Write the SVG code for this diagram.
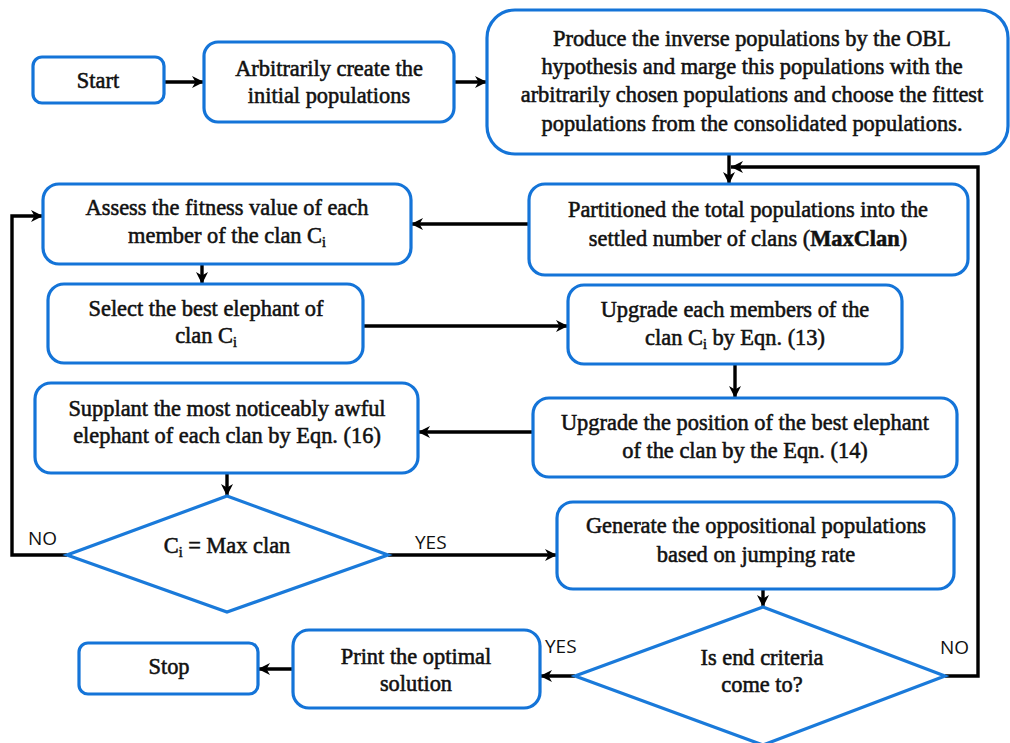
<svg xmlns="http://www.w3.org/2000/svg" width="1010" height="743" viewBox="0 0 1010 743">
  <style>
    .box { fill: #ffffff; stroke: #1474d8; stroke-width: 3.2; }
    .dia { fill: #ffffff; stroke: #1a7ada; stroke-width: 3.2; stroke-linejoin: miter; }
    .t { font-family: "Liberation Serif", "Times New Roman", serif; font-size: 22.4px; fill: #111; stroke: #111; stroke-width: 0.55; text-anchor: middle; }
    .sub { font-size: 14px; }
    .lbl { font-family: "Open Sans", "Liberation Sans", sans-serif; font-size: 19px; fill: #111; }
    .c { fill: none; stroke: #000; stroke-width: 3.4; }
    .a { marker-end: url(#ah); }
  </style>
  <defs>
    <marker id="ah" viewBox="0 0 14 14" refX="13" refY="7" markerWidth="14" markerHeight="14" orient="auto" markerUnits="userSpaceOnUse">
      <path d="M1,1 L13,7 L1,13 L4.5,7 Z" fill="#000"/>
    </marker>
  </defs>
  <rect width="1010" height="743" fill="#ffffff"/>

  <g id="connectors">
    <line class="c a" x1="164" y1="82" x2="204" y2="82"/>
    <line class="c a" x1="454" y1="82" x2="487" y2="82"/>
    <line class="c a" x1="729" y1="154" x2="729" y2="184"/>
    <polyline class="c a" points="945,676 978,676 978,167 731,167"/>
    <line class="c a" x1="529" y1="224" x2="411" y2="224"/>
    <polyline class="c a" points="67,555 12,555 12,216 43,216"/>
    <line class="c a" x1="202" y1="264" x2="202" y2="284"/>
    <line class="c a" x1="363" y1="326" x2="568" y2="326"/>
    <line class="c a" x1="735" y1="364" x2="735" y2="398"/>
    <line class="c a" x1="533" y1="432" x2="418" y2="432"/>
    <line class="c a" x1="227" y1="473" x2="227" y2="496"/>
    <line class="c a" x1="388" y1="555" x2="557" y2="555"/>
    <line class="c a" x1="763" y1="589" x2="763" y2="607"/>
    <line class="c a" x1="575" y1="676" x2="540" y2="676"/>
    <line class="c a" x1="293" y1="669" x2="258" y2="669"/>
    <text class="lbl" x="28" y="545">NO</text>
    <text class="lbl" x="415" y="549">YES</text>
    <text class="lbl" x="545" y="653">YES</text>
    <text class="lbl" x="940" y="654">NO</text>
  </g>

  <g id="start">
    <rect class="box" x="33" y="57" width="131" height="46" rx="9"/>
    <text class="t" x="98" y="88">Start</text>
  </g>

  <g id="init">
    <rect class="box" x="204" y="42" width="250" height="80" rx="14"/>
    <text class="t" x="329" y="76">Arbitrarily create the</text>
    <text class="t" x="329" y="103">initial populations</text>
  </g>

  <g id="obl">
    <rect class="box" x="487" y="10" width="521" height="144" rx="28"/>
    <text class="t" x="752" y="46">Produce the inverse populations by the OBL</text>
    <text class="t" x="752" y="74">hypothesis and marge this populations with the</text>
    <text class="t" x="752" y="102">arbitrarily chosen populations and choose the fittest</text>
    <text class="t" x="752" y="131">populations from the consolidated populations.</text>
  </g>

  <g id="partition">
    <rect class="box" x="529" y="184" width="439" height="91" rx="16"/>
    <text class="t" x="748" y="217">Partitioned the total populations into the</text>
    <text class="t" x="748" y="246">settled number of clans (<tspan font-weight="bold">MaxClan</tspan>)</text>
  </g>

  <g id="assess">
    <rect class="box" x="43" y="184" width="368" height="80" rx="16"/>
    <text class="t" x="227" y="215">Assess the fitness value of each</text>
    <text class="t" x="227" y="243">member of the clan C<tspan class="sub" dy="4">i</tspan></text>
  </g>

  <g id="select">
    <rect class="box" x="48" y="284" width="315" height="79" rx="16"/>
    <text class="t" x="206" y="316">Select the best elephant of</text>
    <text class="t" x="206" y="343">clan C<tspan class="sub" dy="4">i</tspan></text>
  </g>

  <g id="upgrade-members">
    <rect class="box" x="568" y="285" width="334" height="79" rx="16"/>
    <text class="t" x="735" y="317">Upgrade each members of the</text>
    <text class="t" x="735" y="345">clan C<tspan class="sub" dy="4">i</tspan><tspan dy="-4"> by Eqn. (13)</tspan></text>
  </g>

  <g id="upgrade-best">
    <rect class="box" x="533" y="398" width="424" height="79" rx="16"/>
    <text class="t" x="745" y="430">Upgrade the position of the best elephant</text>
    <text class="t" x="745" y="458">of the clan by the Eqn. (14)</text>
  </g>

  <g id="supplant">
    <rect class="box" x="35" y="383" width="383" height="90" rx="16"/>
    <text class="t" x="227" y="416">Supplant the most noticeably awful</text>
    <text class="t" x="227" y="443">elephant of each clan by Eqn. (16)</text>
  </g>

  <g id="decision-clan">
    <polygon class="dia" points="227,496 388,555 227,612 67,555"/>
    <text class="t" x="227" y="553">C<tspan class="sub" dy="4">i</tspan><tspan dy="-4"> = Max clan</tspan></text>
  </g>

  <g id="generate">
    <rect class="box" x="557" y="502" width="397" height="87" rx="16"/>
    <text class="t" x="756" y="533">Generate the oppositional populations</text>
    <text class="t" x="756" y="562">based on jumping rate</text>
  </g>

  <g id="decision-end">
    <polygon class="dia" points="763,607 945,676 763,745 575,676"/>
    <text class="t" x="762" y="665">Is end criteria</text>
    <text class="t" x="762" y="692">come to?</text>
  </g>

  <g id="print">
    <rect class="box" x="293" y="630" width="247" height="78" rx="16"/>
    <text class="t" x="416" y="664">Print the optimal</text>
    <text class="t" x="416" y="691">solution</text>
  </g>

  <g id="stop">
    <rect class="box" x="79" y="643" width="179" height="51" rx="9"/>
    <text class="t" x="169" y="674">Stop</text>
  </g>
</svg>
